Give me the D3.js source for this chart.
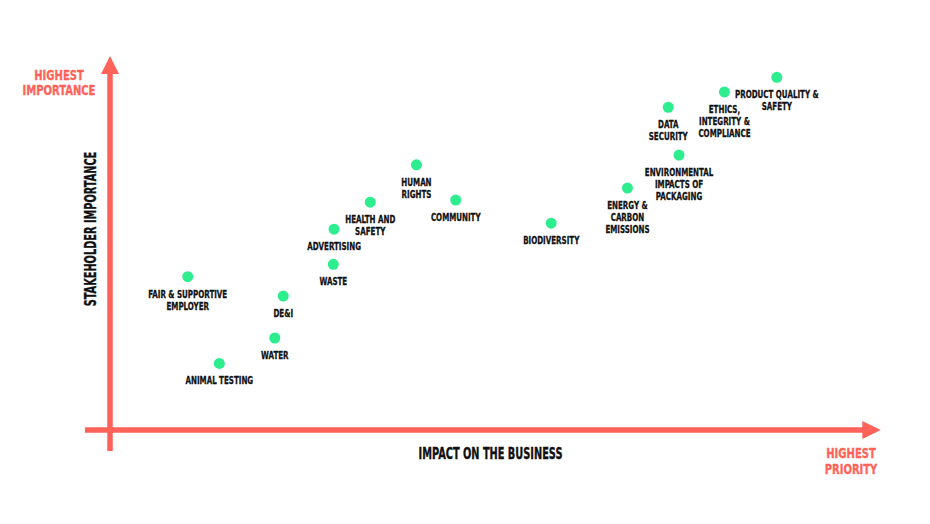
<!DOCTYPE html>
<html>
<head>
<meta charset="utf-8">
<script src="https://cdn.jsdelivr.net/npm/d3@7"></script>
<style>
  html, body { margin: 0; padding: 0; background: #fff; }
  svg { display: block; }
</style>
</head>
<body>
<svg id="chart" width="930" height="524"></svg>
<script>
// materiality matrix (0..100 both ways)

const topics = [
  "FAIR & SUPPORTIVE|EMPLOYER", "ANIMAL TESTING", "WATER", "DE&I", "WASTE",
  "ADVERTISING", "HEALTH AND|SAFETY", "HUMAN|RIGHTS", "COMMUNITY", "BIODIVERSITY",
  "ENERGY &|CARBON|EMISSIONS", "ENVIRONMENTAL|IMPACTS OF|PACKAGING", "DATA|SECURITY",
  "ETHICS,|INTEGRITY &|COMPLIANCE", "PRODUCT QUALITY &|SAFETY"
];
const impact = [10.1, 14.2, 21.4, 22.5, 29.0, 29.1, 33.8, 39.8, 44.9, 57.3, 67.2, 73.9, 72.5, 79.8, 86.6];
const importance = [41.0, 17.8, 24.6, 35.8, 44.3, 53.7, 60.9, 70.9, 61.5, 55.3, 64.7, 73.5, 86.3, 90.4, 94.3];

const axis_titles = ["IMPACT ON THE BUSINESS", "STAKEHOLDER IMPORTANCE"];
const corner_labels = ["HIGHEST|IMPORTANCE", "HIGHEST|PRIORITY"];

const RED = "#ff6259";
const GREEN = "#2ded8f";
const INK = "#111";
const FONT = "'Liberation Sans Narrow', 'DejaVu Sans Condensed', 'Liberation Sans', sans-serif";

const svg = d3.select("#chart");

let x = d3.scaleLinear().domain([0, 100]).range([110, 880]);
let y = d3.scaleLinear().domain([0, 100]).range([430, 56]);

// squeeze factor so the font looks like the compressed face of the original
function squeeze(size, sample, target) {
    let t = svg.append("text")
        .style("font-family", FONT)
        .style("font-weight", "bold")
        .style("font-size", size + "px")
        .text(sample);
    let w = t.node().getComputedTextLength();
    t.remove();
    return target / w;
}

const s_label = squeeze(11, "FAIR & SUPPORTIVE", 79);
const s_title = squeeze(15, "IMPACT ON THE BUSINESS", 144);
const s_red = squeeze(14, "IMPORTANCE", 73);

function multiline(g, cx, cy, str, size, lh, sx, color, sw) {
    let lines = str.split("|");
    let t = g.append("text")
        .attr("transform", `translate(${cx},${cy}) scale(${sx},1)`)
        .attr("text-anchor", "middle")
        .style("font-family", FONT)
        .style("font-weight", "bold")
        .style("font-size", size + "px")
        .style("fill", color)
        .style("stroke", color)
        .style("stroke-width", sw);
    lines.forEach((l, i) => {
        t.append("tspan").attr("x", 0).attr("y", i * lh).text(l);
    });
    return t;
}

/////////////// axes
let axes = svg.append("g").attr("class", "axes");

axes.append("line")
    .attr("x1", x(-3.25)).attr("x2", x(98.1))
    .attr("y1", y(0)).attr("y2", y(0))
    .attr("stroke", RED).attr("stroke-width", 5.5);

axes.append("path")
    .attr("d", `M${x(97.7)},${y(0) - 9} L${x(100.1)},${y(0)} L${x(97.7)},${y(0) + 9} Z`)
    .attr("fill", RED);

axes.append("line")
    .attr("x1", x(0)).attr("x2", x(0))
    .attr("y1", y(-5.6)).attr("y2", y(95.5))
    .attr("stroke", RED).attr("stroke-width", 5.5);

axes.append("path")
    .attr("d", `M${x(0) - 9},${y(95.2)} L${x(0)},${y(100)} L${x(0) + 9},${y(95.2)} Z`)
    .attr("fill", RED);

/////////////// axis titles
multiline(svg, 490.5, 458.5, axis_titles[0], 15, 16, s_title, INK, 0.35);

let ytitle = svg.append("g").attr("transform", "translate(96,229) rotate(-90)");
multiline(ytitle, 0, 0, axis_titles[1], 15, 16, s_title, INK, 0.35);

multiline(svg, 59, 79.5, corner_labels[0], 14, 16, s_red, RED, 0.3);
multiline(svg, 851, 458, corner_labels[1], 14, 16, s_red, RED, 0.3);

/////////////// points
let pts = svg.append("g").attr("class", "points")
    .selectAll("g")
    .data(topics.map((t, i) => ({ name: t, impact: impact[i], importance: importance[i] })))
    .enter()
    .append("g");

pts.append("circle")
    .attr("cx", d => x(d.impact))
    .attr("cy", d => y(d.importance))
    .attr("r", 5.5)
    .attr("fill", GREEN);

pts.each(function (d) {
    multiline(d3.select(this), x(d.impact), y(d.importance) + 21, d.name, 11, 12, s_label, INK, 0.3);
});
</script>
</body>
</html>
